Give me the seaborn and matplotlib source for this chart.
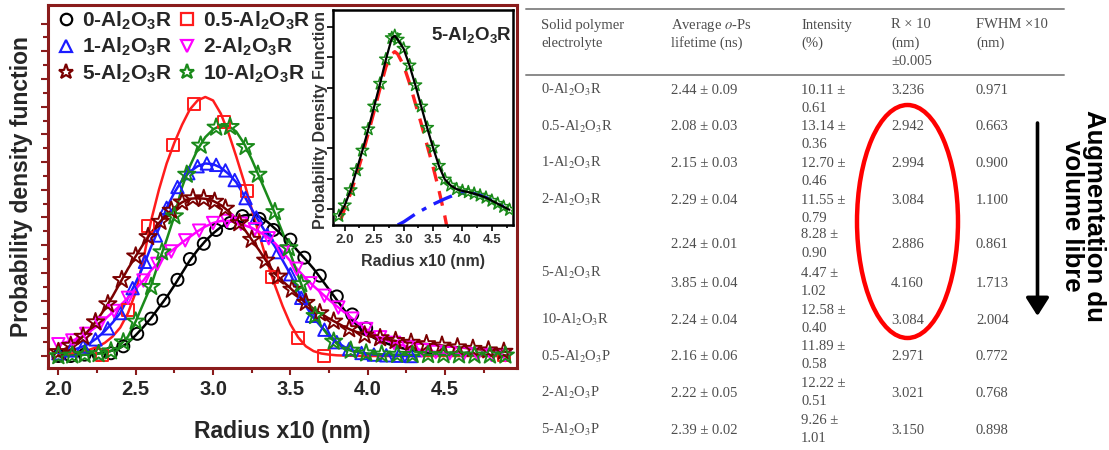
import numpy as np
import pandas as pd
import matplotlib
matplotlib.use("Agg")
import matplotlib.pyplot as plt
import seaborn as sns
from matplotlib.patches import Ellipse
from matplotlib.lines import Line2D

# ------------------------------------------------------------------ data
SAMPLES = ["0", "0.5", "1", "2", "5", "10"]          # wt% Al2O3, R series

RADIUS_FIT = [2.00, 2.05, 2.10, 2.15, 2.20, 2.25, 2.30, 2.35, 2.40, 2.45,
              2.50, 2.55, 2.60, 2.65, 2.70, 2.75, 2.80, 2.85, 2.90, 2.95,
              3.00, 3.05, 3.10, 3.15, 3.20, 3.25, 3.30, 3.35, 3.40, 3.45,
              3.50, 3.55, 3.60, 3.65, 3.70, 3.75, 3.80, 3.85, 3.90, 3.95,
              4.00, 4.05, 4.10, 4.15, 4.20, 4.25, 4.30, 4.35, 4.40, 4.45,
              4.50, 4.55, 4.60, 4.65, 4.70, 4.75, 4.80, 4.85, 4.90]

FIT_0 = [0.00, 0.02, 0.05, 0.08, 0.12, 0.17, 0.25, 0.40, 0.60, 0.95,
         1.50, 2.10, 2.75, 3.50, 4.25, 5.10, 6.00, 6.90, 7.65, 8.30,
         8.85, 9.30, 9.65, 9.95, 10.15, 10.20, 10.05, 9.70, 9.20, 8.70,
         8.20, 7.55, 6.95, 6.30, 5.55, 4.80, 4.05, 3.30, 2.60, 2.00,
         1.55, 1.25, 1.00, 0.80, 0.62, 0.50, 0.38, 0.29, 0.22, 0.16,
         0.12, 0.09, 0.07, 0.05, 0.04, 0.03, 0.02, 0.01, 0.00]
FIT_05 = [0.10, 0.15, 0.20, 0.30, 0.45, 0.65, 0.95, 1.40, 2.05, 3.10,
          4.60, 7.00, 9.80, 12.00, 13.90, 15.40, 16.70, 17.80, 18.45, 18.70,
          18.45, 17.50, 16.10, 14.40, 12.60, 10.60, 8.70, 6.80, 5.10, 3.60,
          2.30, 1.35, 0.70, 0.35, 0.18, 0.10, 0.05, 0.03, 0.02, 0.01,
          0.00, 0.00, 0.00, 0.00, 0.00, 0.00, 0.00, 0.00, 0.00, 0.00,
          0.00, 0.00, 0.00, 0.00, 0.00, 0.00, 0.00, 0.00, 0.00]
FIT_1 = [0.20, 0.30, 0.45, 0.65, 0.90, 1.30, 1.80, 2.40, 3.10, 4.20,
         5.30, 6.50, 7.90, 9.20, 10.70, 11.80, 12.70, 13.30, 13.70, 13.90,
         13.85, 13.60, 13.15, 12.55, 11.60, 10.60, 9.65, 8.75, 7.90, 6.90,
         5.90, 4.70, 3.60, 2.75, 2.10, 1.55, 1.00, 0.65, 0.40, 0.25,
         0.15, 0.10, 0.06, 0.04, 0.02, 0.01, 0.00, 0.00, None, None,
         None, None, None, None, None, None, None, None, None]
FIT_2 = [0.85, 1.00, 1.15, 1.40, 1.75, 2.15, 2.65, 3.15, 3.65, 4.20,
         4.85, 5.45, 6.20, 6.75, 7.30, 7.75, 8.20, 8.60, 9.00, 9.35,
         9.60, 9.75, 9.75, 9.65, 9.45, 9.25, 8.95, 8.60, 8.15, 7.50,
         6.85, 6.20, 5.60, 5.05, 4.55, 4.05, 3.60, 3.15, 2.70, 2.25,
         1.85, 1.50, 1.25, 1.00, 0.85, 0.70, 0.55, 0.42, 0.35, 0.28,
         0.22, 0.18, 0.15, 0.13, 0.11, 0.09, 0.08, 0.07, 0.06]
FIT_5 = [0.30, 0.55, 0.90, 1.30, 1.90, 2.60, 3.40, 4.30, 5.30, 6.30,
         7.20, 8.10, 8.90, 9.60, 10.20, 10.70, 11.10, 11.35, 11.40, 11.35,
         11.20, 10.90, 10.45, 9.90, 9.20, 8.40, 7.60, 6.75, 5.95, 5.40,
         4.90, 4.35, 3.85, 3.40, 3.05, 2.70, 2.40, 2.10, 1.85, 1.65,
         1.45, 1.35, 1.25, 1.15, 1.05, 1.00, 0.95, 0.90, 0.85, 0.80,
         0.73, 0.67, 0.61, 0.56, 0.50, 0.45, 0.40, 0.35, 0.30]
FIT_10 = [0.00, 0.00, 0.05, 0.08, 0.10, 0.15, 0.25, 0.40, 0.80, 1.40,
          2.50, 3.80, 5.10, 6.80, 8.40, 10.10, 12.20, 13.70, 14.90, 15.80,
          16.35, 16.65, 16.60, 16.20, 15.35, 14.20, 12.90, 11.60, 10.30, 8.90,
          7.40, 5.80, 4.30, 3.10, 2.15, 1.40, 0.90, 0.55, 0.35, 0.25,
          0.18, 0.14, 0.12, 0.10, 0.10, 0.09, 0.09, 0.08, 0.08, 0.07,
          0.07, 0.06, 0.06, 0.05, 0.05, 0.05, 0.05, 0.05, 0.05]

# measured points (markers)
PTS_X_0 = [2.00, 2.08, 2.17, 2.26, 2.34, 2.42, 2.51, 2.60, 2.68, 2.77, 2.85, 2.94,
           3.02, 3.11, 3.19, 3.30, 3.39, 3.50, 3.59, 3.69, 3.80, 3.90, 3.99]
PTS_Y_0 = [0.0, 0.0, 0.1, 0.1, 0.2, 0.7, 1.6, 2.7, 4.0, 5.5, 7.0, 8.1,
           9.1, 9.6, 10.1, 9.9, 9.1, 8.4, 7.1, 5.8, 4.3, 3.0, 2.0]
PTS_X_05 = [2.28, 2.45, 2.58, 2.74, 2.88, 3.07, 3.22, 3.38, 3.55, 3.72, 4.88]
PTS_Y_05 = [0.1, 3.3, 9.4, 15.2, 18.2, 16.9, 11.9, 5.7, 1.3, 0.0, 0.1]
PTS_X_1 = [2.00, 2.08, 2.16, 2.24, 2.32, 2.40, 2.48, 2.56, 2.63, 2.70, 2.77, 2.84,
           2.90, 2.96, 3.02, 3.08, 3.14, 3.21, 3.28, 3.35, 3.42, 3.50, 3.57, 3.64,
           3.72, 3.80, 3.88, 3.96, 4.04, 4.12, 4.20, 4.28]
PTS_Y_1 = [0.2, 0.4, 0.7, 1.2, 2.0, 3.1, 4.9, 6.8, 8.7, 10.7, 12.2, 13.2,
           13.7, 13.9, 13.8, 13.4, 12.7, 11.4, 10.0, 8.75, 7.5, 5.9, 4.2, 2.9,
           1.9, 1.0, 0.5, 0.22, 0.1, 0.05, 0.02, 0.0]
PTS_X_2 = [2.00, 2.09, 2.18, 2.27, 2.36, 2.45, 2.55, 2.64, 2.73, 2.82, 2.91, 3.00,
           3.09, 3.18, 3.27, 3.36, 3.45, 3.54, 3.63, 3.72, 3.81, 3.90, 3.99, 4.08,
           4.17, 4.26, 4.35, 4.44, 4.53, 4.62, 4.71, 4.80, 4.89]
PTS_Y_2 = [0.85, 1.12, 1.6, 2.35, 3.25, 4.2, 5.45, 6.65, 7.55, 8.35, 9.05, 9.6,
           9.75, 9.55, 9.15, 8.5, 7.5, 6.3, 5.25, 4.35, 3.5, 2.7, 1.95, 1.35,
           0.95, 0.66, 0.42, 0.29, 0.2, 0.14, 0.11, 0.08, 0.06]
PTS_X_5 = [2.00, 2.08, 2.16, 2.24, 2.32, 2.41, 2.50, 2.58, 2.66, 2.73, 2.80, 2.87,
           2.94, 3.01, 3.08, 3.17, 3.25, 3.34, 3.42, 3.51, 3.60, 3.69, 3.78, 3.88,
           3.98, 4.08, 4.18, 4.28, 4.38, 4.48, 4.58, 4.68, 4.78, 4.88]
PTS_Y_5 = [0.3, 0.75, 1.4, 2.45, 3.75, 5.5, 7.2, 8.6, 9.7, 10.5, 11.1, 11.4,
           11.35, 11.15, 10.65, 9.6, 8.4, 6.9, 5.75, 4.8, 3.85, 3.1, 2.5, 1.95,
           1.5, 1.3, 1.1, 0.97, 0.87, 0.76, 0.64, 0.53, 0.42, 0.32]
PTS_X_10 = [2.00, 2.09, 2.17, 2.26, 2.34, 2.42, 2.50, 2.60, 2.67, 2.75, 2.83, 2.92,
            3.02, 3.11, 3.21, 3.29, 3.40, 3.49, 3.57, 3.66, 3.78, 3.89, 3.99, 4.09,
            4.19, 4.29, 4.39, 4.49, 4.59, 4.69, 4.79, 4.89]
PTS_Y_10 = [0.0, 0.05, 0.1, 0.15, 0.35, 1.0, 2.5, 5.0, 7.5, 10.1, 13.1, 15.2,
            16.5, 16.55, 15.1, 13.1, 10.4, 7.8, 5.2, 2.9, 1.05, 0.4, 0.2, 0.12,
            0.1, 0.09, 0.08, 0.07, 0.06, 0.05, 0.05, 0.05]

# inset: 5-Al2O3R decomposition
INSET_X = [1.90, 2.00, 2.10, 2.20, 2.30, 2.40, 2.50, 2.60, 2.70, 2.80, 2.85,
           2.90, 3.00, 3.10, 3.20, 3.30, 3.40, 3.50, 3.60, 3.70, 3.80, 3.90,
           4.00, 4.10, 4.20, 4.30, 4.40, 4.50, 4.60, 4.70, 4.80]
INSET_TOTAL = [0.30, 0.65, 1.15, 1.80, 2.45, 3.15, 3.90, 4.65, 5.45, 6.15, 6.22,
               6.10, 5.80, 5.25, 4.60, 3.90, 3.20, 2.55, 1.95, 1.50, 1.30, 1.18,
               1.12, 1.08, 1.03, 0.97, 0.90, 0.80, 0.70, 0.60, 0.50]
INSET_C1_X = [1.93, 2.00, 2.10, 2.20, 2.30, 2.40, 2.50, 2.60, 2.70, 2.80, 2.85,
              2.90, 3.00, 3.10, 3.20, 3.30, 3.40, 3.50, 3.60, 3.70, 3.73]
INSET_C1 = [0.16, 0.55, 1.05, 1.64, 2.30, 3.02, 3.75, 4.50, 5.20, 5.62, 5.70,
            5.62, 5.25, 4.67, 4.00, 3.33, 2.62, 1.92, 1.15, 0.30, 0.00]
INSET_C2_X = [2.90, 3.00, 3.10, 3.20, 3.30, 3.40, 3.50, 3.60, 3.70, 3.80,
              3.90, 4.00, 4.10, 4.20, 4.30, 4.40, 4.50, 4.60, 4.70, 4.80]
INSET_C2 = [0.00, 0.10, 0.23, 0.36, 0.47, 0.58, 0.68, 0.77, 0.86, 0.94,
            1.01, 1.05, 1.07, 1.04, 0.99, 0.91, 0.81, 0.71, 0.61, 0.51]

XTICKS = [2.0, 2.5, 3.0, 3.5, 4.0, 4.5]
XTICK_LABELS = ["2.0", "2.5", "3.0", "3.5", "4.0", "4.5"]

# table
TBL_HEADER = [["Solid polymer", "electrolyte"],
              ["Average $o$-Ps", "lifetime (ns)"],
              ["Intensity", "(%)"],
              ["R \u00d7 10", "(nm)", "\u00b10.005"],
              ["FWHM \u00d710", "(nm)"]]
TBL_SAMPLES = ["0-Al$_2$O$_3$R", "0.5-Al$_2$O$_3$R", "1-Al$_2$O$_3$R",
               "2-Al$_2$O$_3$R", "5-Al$_2$O$_3$R", "10-Al$_2$O$_3$R",
               "0.5-Al$_2$O$_3$P", "2-Al$_2$O$_3$P", "5-Al$_2$O$_3$P"]
TBL_LIFETIME = ["2.44 \u00b1 0.09", "2.08 \u00b1 0.03", "2.15 \u00b1 0.03",
                "2.29 \u00b1 0.04", "2.24 \u00b1 0.01", "3.85 \u00b1 0.04",
                "2.24 \u00b1 0.04", "2.16 \u00b1 0.06", "2.22 \u00b1 0.05",
                "2.39 \u00b1 0.02"]
TBL_INT_VAL = ["10.11 \u00b1", "13.14 \u00b1", "12.70 \u00b1", "11.55 \u00b1",
               "8.28 \u00b1", "4.47 \u00b1", "12.58 \u00b1", "11.89 \u00b1",
               "12.22 \u00b1", "9.26 \u00b1"]
TBL_INT_ERR = ["0.61", "0.36", "0.46", "0.79", "0.90", "1.02", "0.40",
               "0.58", "0.51", "1.01"]
TBL_R = ["3.236", "2.942", "2.994", "3.084", "2.886", "4.160", "3.084",
         "2.971", "3.021", "3.150"]
TBL_FWHM = ["0.971", "0.663", "0.900", "1.100", "0.861", "1.713", "2.004",
            "0.772", "0.768", "0.898"]
ANNOT_TEXT = "Augmentation du\nvolume libre"

# ------------------------------------------------------------------ style
sns.set_theme(style="white")
plt.rcParams.update({
    "font.family": ["Liberation Sans", "DejaVu Sans"],
    "mathtext.fontset": "custom",
    "mathtext.rm": "Liberation Sans",
    "mathtext.bf": "Liberation Sans:bold",
    "mathtext.it": "Liberation Sans:italic",
})

COLORS = {"0": "#000000", "0.5": "#ff1c1c", "1": "#1c1cff",
          "2": "#ff00ff", "5": "#7a0000", "10": "#1a8a1a"}
MARKERS = {"0": "o", "0.5": "s", "1": "^", "2": "v", "5": "*", "10": "*"}
SIZES = {"0": 75, "0.5": 75, "1": 80, "2": 80, "5": 170, "10": 170}
SPINE = "#8a1c1c"

W, H = 1109, 450
fig = plt.figure(figsize=(W / 100, H / 100), dpi=100)

# ------------------------------------------------------------------ main panel
ax = fig.add_axes([48 / W, 1 - 367.5 / H, (517 - 48) / W, (367.5 - 5) / H])

fits = {"0": FIT_0, "0.5": FIT_05, "1": FIT_1, "2": FIT_2, "5": FIT_5, "10": FIT_10}
pts = {"0": (PTS_X_0, PTS_Y_0), "0.5": (PTS_X_05, PTS_Y_05), "1": (PTS_X_1, PTS_Y_1),
       "2": (PTS_X_2, PTS_Y_2), "5": (PTS_X_5, PTS_Y_5), "10": (PTS_X_10, PTS_Y_10)}

df_fit = pd.concat([
    pd.DataFrame({"sample": s, "radius": RADIUS_FIT,
                  "pdf": pd.to_numeric(pd.Series(fits[s]), errors="coerce")})
    for s in SAMPLES]).dropna()

sns.lineplot(data=df_fit, x="radius", y="pdf", hue="sample", hue_order=SAMPLES,
             palette=COLORS, estimator=None, linewidth=1.8, legend=False, ax=ax,
             zorder=2)
for s in SAMPLES:
    px, py = pts[s]
    sns.scatterplot(x=px, y=py, ax=ax, marker=MARKERS[s], s=SIZES[s],
                    color=COLORS[s], facecolor="none", edgecolor=COLORS[s],
                    linewidth=1.4, legend=False, zorder=3)

ax.set_xlim(1.933, 4.965)
ax.set_ylim(-0.83, 25.34)
ax.set_xticks(XTICKS, XTICK_LABELS, fontsize=14.5, fontweight="bold")
ax.set_xticks([2.25, 2.75, 3.25, 3.75, 4.25, 4.75], minor=True)
ax.set_yticks(list(range(0, 25, 2)))
ax.set_yticks(list(range(1, 25, 2)), minor=True)
ax.tick_params(axis="both", which="both", direction="out", color=SPINE,
               bottom=True, left=True, labelleft=False, width=1.5)
ax.tick_params(axis="both", which="major", length=5, pad=4)
ax.tick_params(axis="both", which="minor", length=3.5)
for sp in ax.spines.values():
    sp.set_visible(True)
    sp.set_color(SPINE)
    sp.set_linewidth(2.2)
ax.set_xlabel("Radius x10 (nm)", fontsize=16.5, fontweight="bold", labelpad=15)
ax.set_ylabel("Probability density function", fontsize=16.5, fontweight="bold")
ax.yaxis.set_label_coords(-0.032, 0.5)

labels = [f"{s}-Al$_\\mathbf{{2}}$O$_\\mathbf{{3}}$R" for s in SAMPLES]
handles = [Line2D([], [], linestyle="none", marker=MARKERS[s],
                  markersize=np.sqrt(SIZES[s]) * (0.95 if MARKERS[s] != "*" else 0.85),
                  markerfacecolor="none", markeredgecolor=COLORS[s],
                  markeredgewidth=1.6) for s in SAMPLES]
order = [0, 2, 4, 1, 3, 5]
ax.legend([handles[i] for i in order], [labels[i] for i in order], ncol=2,
          loc="upper left", bbox_to_anchor=(0.021, 0.988), frameon=False,
          prop={"weight": "bold", "size": 15}, handlelength=0.8,
          handletextpad=0.34, columnspacing=0.35, labelspacing=0.2,
          borderpad=0, borderaxespad=0)

# ------------------------------------------------------------------ inset
axi = fig.add_axes([333 / W, 1 - 225 / H, 180 / W, 215 / H])
axi.set_facecolor("white")
sns.lineplot(x=INSET_C1_X, y=INSET_C1, ax=axi, color="#ff2020", linewidth=2.4,
             linestyle=(0, (4.5, 3.0)), estimator=None, zorder=2)
sns.lineplot(x=INSET_C2_X, y=INSET_C2, ax=axi, color="#1c1cff", linewidth=2.4,
             linestyle=(0, (6, 2.5, 1.5, 2.5)), estimator=None, zorder=2)
sns.lineplot(x=INSET_X, y=INSET_TOTAL, ax=axi, color="black", linewidth=1.6,
             estimator=None, zorder=4)
sns.scatterplot(x=INSET_X, y=INSET_TOTAL, ax=axi, marker="*", s=90,
                color="#1a8a1a", facecolor="none", edgecolor="#1a8a1a",
                linewidth=1.1, legend=False, zorder=3)
axi.set_xlim(1.80, 4.86)
axi.set_ylim(0, 7.07)
axi.set_xticks(XTICKS, XTICK_LABELS, fontsize=9.5, fontweight="bold", color="#333333")
axi.set_xticks([2.25, 2.75, 3.25, 3.75, 4.25, 4.75], minor=True)
axi.set_yticks([0.52, 1.52, 2.52, 3.52, 4.52, 5.52, 6.52])
axi.tick_params(axis="both", which="both", direction="out", color="black",
                bottom=True, left=True, labelleft=False, width=1.2)
axi.tick_params(axis="both", which="major", length=4, pad=2.5)
axi.tick_params(axis="both", which="minor", length=2.5)
for sp in axi.spines.values():
    sp.set_visible(True)
    sp.set_color("black")
    sp.set_linewidth(1.8)
axi.set_xlabel("Radius x10 (nm)", fontsize=11.5, fontweight="bold",
               color="#333333", labelpad=6)
axi.set_ylabel("Probability Density Function", fontsize=11.5, fontweight="bold",
               color="#333333")
axi.yaxis.set_label_coords(-0.03, 0.49)
axi.text(0.995, 0.885, "5-Al$_\\mathbf{2}$O$_\\mathbf{3}$R", transform=axi.transAxes,
         ha="right", va="center", fontsize=13.5, fontweight="bold")

# ------------------------------------------------------------------ table + annotations
axt = fig.add_axes([0, 0, 1, 1], zorder=5)
axt.set_xlim(0, W)
axt.set_ylim(H, 0)
axt.axis("off")

TXT = dict(fontsize=10.5, color="#4d4d4d", family="Liberation Serif",
           math_fontfamily="stix", va="center", ha="left")
col_x = [541, 671, 801, 891, 976]
head_y = [25, 43.3, 61.7]
axt.plot([526, 1064], [9.3, 9.3], color="#8a8a8a", lw=1.4)
axt.plot([526, 1064], [75, 75], color="#8a8a8a", lw=1.4)
for cx, lines in zip(col_x, TBL_HEADER):
    for yy, t in zip(head_y, lines):
        axt.text(cx, yy, t, **TXT)

sample_y = [90, 126.7, 163.3, 200, 273.3, 320, 356.7, 393.3, 430]
row_y = [90, 126.7, 163.3, 200, 245, 283.3, 320, 356.7, 393.3, 430]
int_y = [90, 126.7, 163.3, 200, 235, 273.3, 310, 346.7, 383.3, 420]
for yy, t in zip(sample_y, TBL_SAMPLES):
    axt.text(col_x[0], yy, t, **TXT)
for i, yy in enumerate(row_y):
    axt.text(col_x[1], yy, TBL_LIFETIME[i], **TXT)
    axt.text(col_x[3], yy, TBL_R[i], **TXT)
    axt.text(col_x[4], yy, TBL_FWHM[i], **TXT)
for i, yy in enumerate(int_y):
    axt.text(col_x[2], yy, TBL_INT_VAL[i], **TXT)
    axt.text(col_x[2], yy + 18.3, TBL_INT_ERR[i], **TXT)

axt.add_patch(Ellipse((907.5, 221.5), 101, 233, fill=False,
                      edgecolor="#ff0000", linewidth=3.2))
axt.annotate("", xy=(1037.5, 316), xytext=(1037.5, 123),
             arrowprops=dict(arrowstyle="-|>,head_length=0.55,head_width=0.35",
                             color="black", lw=2.6, mutation_scale=20,
                             shrinkA=0, shrinkB=0))
axt.text(1083, 216, ANNOT_TEXT, rotation=270, ha="center", va="center",
         multialignment="center", fontsize=18.5, fontweight="bold",
         linespacing=0.9, color="black")

fig.savefig("out.png", dpi=100)
